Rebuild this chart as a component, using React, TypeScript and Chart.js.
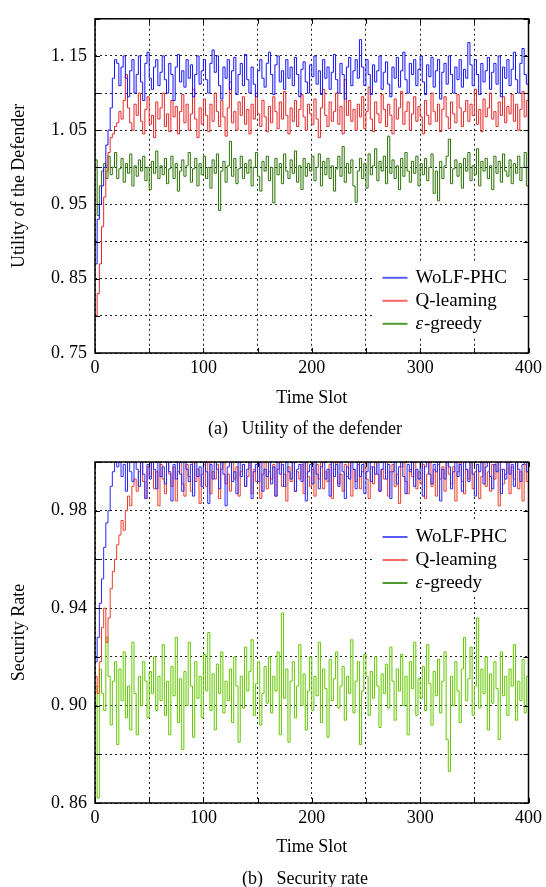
import React, { useEffect, useRef } from "react";
import { Chart, registerables } from "chart.js";

Chart.register(...registerables);

// sampling interval of the stored series (time slots between stored values)
const SLOT_STEP = 2;

const SERIES_NAMES = ["WoLF-PHC", "Q-leaming", "ε-greedy"];
const X_TICK_LABELS = [0, 100, 200, 300, 400];
const UTIL_TICK_LABELS = [0.75, 0.85, 0.95, 1.05, 1.15];
const RATE_TICK_LABELS = [0.86, 0.9, 0.94, 0.98];

// ---------- (a) Utility of the defender ----------
const utilWolf = [
  0.870, 0.930, 0.950, 0.975, 1.000, 1.030, 1.050, 1.080, 1.120, 1.145, 1.140,
  1.110, 1.135, 1.150, 1.120, 1.095, 1.130, 1.145, 1.100, 1.125, 1.150,
  1.115, 1.090, 1.140, 1.155, 1.120, 1.105, 1.135, 1.145, 1.110, 1.128,
  1.150, 1.118, 1.100, 1.140, 1.125, 1.090, 1.135, 1.152, 1.115, 1.130,
  1.108, 1.145, 1.120, 1.138, 1.095, 1.125, 1.150, 1.112, 1.130, 1.145,
  1.118, 1.100, 1.140, 1.158, 1.128, 1.150, 1.110, 1.092, 1.135, 1.120,
  1.145, 1.105, 1.130, 1.148, 1.098, 1.125, 1.140, 1.110, 1.152, 1.118,
  1.100, 1.135, 1.112, 1.095, 1.130, 1.145, 1.120, 1.108, 1.140, 1.155,
  1.125, 1.098, 1.138, 1.150, 1.115, 1.130, 1.105, 1.145, 1.120, 1.135,
  1.110, 1.148, 1.125, 1.095, 1.132, 1.142, 1.115, 1.100, 1.138, 1.122,
  1.150, 1.112, 1.130, 1.098, 1.145, 1.120, 1.135, 1.105, 1.128, 1.152,
  1.118, 1.100, 1.140, 1.125, 1.092, 1.135, 1.148, 1.110, 1.130, 1.145,
  1.120, 1.172, 1.135, 1.110, 1.145, 1.125, 1.098, 1.138, 1.115, 1.130,
  1.150, 1.105, 1.128, 1.142, 1.112, 1.095, 1.135, 1.120, 1.148, 1.108,
  1.130, 1.155, 1.118, 1.100, 1.140, 1.125, 1.145, 1.110, 1.132, 1.150,
  1.115, 1.098, 1.138, 1.122, 1.148, 1.108, 1.130, 1.145, 1.092, 1.128,
  1.140, 1.112, 1.150, 1.125, 1.100, 1.135, 1.118, 1.145, 1.108, 1.132,
  1.120, 1.168, 1.138, 1.110, 1.145, 1.125, 1.098, 1.140, 1.115, 1.130,
  1.148, 1.105, 1.128, 1.140, 1.112, 1.150, 1.095, 1.135, 1.120, 1.145,
  1.110, 1.132, 1.155, 1.118, 1.100, 1.140, 1.160, 1.125, 1.112, 1.100,
];

const utilQ = [
  0.800, 0.830, 0.870, 0.920, 0.960, 0.995, 1.020, 1.040, 1.045, 1.055, 1.060,
  1.075, 1.065, 1.090, 1.125, 1.080, 1.060, 1.050, 1.085, 1.070, 1.100,
  1.062, 1.045, 1.078, 1.095, 1.058, 1.070, 1.040, 1.088, 1.065, 1.080,
  1.100, 1.055, 1.072, 1.048, 1.090, 1.068, 1.082, 1.045, 1.075, 1.098,
  1.060, 1.085, 1.050, 1.072, 1.105, 1.065, 1.040, 1.080, 1.058, 1.092,
  1.070, 1.048, 1.085, 1.062, 1.100, 1.075, 1.055, 1.090, 1.068, 1.042,
  1.080, 1.115, 1.060, 1.075, 1.050, 1.088, 1.070, 1.095, 1.058, 1.078,
  1.045, 1.085, 1.065, 1.100, 1.072, 1.055, 1.090, 1.068, 1.048, 1.082,
  1.060, 1.095, 1.075, 1.052, 1.088, 1.065, 1.102, 1.070, 1.045, 1.080,
  1.062, 1.090, 1.055, 1.078, 1.098, 1.068, 1.050, 1.085, 1.072, 1.058,
  1.092, 1.065, 1.040, 1.080, 1.105, 1.070, 1.055, 1.088, 1.062, 1.075,
  1.100, 1.058, 1.082, 1.045, 1.118, 1.070, 1.090, 1.062, 1.078, 1.050,
  1.085, 1.068, 1.095, 1.052, 1.075, 1.108, 1.065, 1.048, 1.088, 1.072,
  1.060, 1.098, 1.078, 1.055, 1.085, 1.070, 1.045, 1.092, 1.065, 1.080,
  1.102, 1.058, 1.075, 1.088, 1.050, 1.072, 1.095, 1.062, 1.082, 1.068,
  1.045, 1.090, 1.070, 1.058, 1.100, 1.075, 1.062, 1.085, 1.048, 1.078,
  1.095, 1.068, 1.052, 1.088, 1.072, 1.060, 1.098, 1.080, 1.055, 1.075,
  1.090, 1.062, 1.085, 1.070, 1.105, 1.058, 1.078, 1.048, 1.092, 1.068,
  1.080, 1.100, 1.065, 1.075, 1.055, 1.088, 1.070, 1.095, 1.060, 1.082,
  1.072, 1.098, 1.062, 1.085, 1.050, 1.078, 1.102, 1.068, 1.090, 1.075,
];

const utilGreedy = [
  1.010, 0.935, 0.975, 0.995, 1.005, 0.985, 1.015, 0.990, 1.000, 1.020, 0.985,
  0.998, 1.012, 0.980, 1.005, 0.992, 1.018, 0.975, 1.002, 0.988, 1.010,
  0.995, 1.015, 0.982, 1.000, 0.970, 1.008, 0.992, 1.022, 0.985, 1.002,
  0.990, 1.012, 0.978, 0.998, 1.015, 0.985, 1.005, 0.968, 0.995, 1.010,
  0.988, 1.002, 1.020, 0.980, 0.998, 1.012, 0.975, 1.005, 0.990, 1.015,
  0.985, 1.000, 0.972, 1.010, 0.992, 1.018, 0.942, 0.995, 1.008, 0.980,
  1.002, 1.035, 0.988, 1.012, 0.978, 0.998, 1.015, 0.985, 1.005, 0.992,
  1.010, 0.975, 1.000, 1.020, 0.988, 0.968, 1.008, 0.995, 1.015, 0.982,
  1.000, 0.952, 1.012, 0.990, 1.005, 0.978, 1.018, 0.995, 0.985, 1.010,
  0.992, 1.022, 0.980, 1.002, 0.970, 1.012, 0.988, 1.005, 0.995, 1.015,
  0.982, 1.000, 1.018, 0.975, 1.008, 0.990, 1.012, 0.985, 1.002, 0.968,
  0.998, 1.015, 0.988, 1.028, 0.980, 1.005, 0.992, 1.010, 0.975, 0.953,
  0.995, 1.012, 0.985, 1.005, 0.972, 1.018, 0.990, 1.002, 1.025, 0.982,
  1.008, 0.995, 1.015, 0.978, 1.042, 0.992, 1.010, 0.985, 1.002, 0.970,
  1.012, 0.988, 1.020, 0.995, 0.980, 1.008, 0.992, 1.015, 0.975, 1.005,
  0.990, 1.012, 0.982, 1.000, 1.018, 0.965, 0.995, 0.955, 1.008, 0.985,
  1.002, 1.015, 1.038, 0.978, 0.998, 1.010, 0.988, 1.005, 0.972, 1.012,
  0.995, 1.020, 0.982, 1.002, 0.990, 1.025, 0.975, 1.008, 0.995, 1.012,
  0.985, 1.002, 0.970, 1.015, 0.992, 1.008, 0.980, 1.018, 0.995, 0.988,
  1.010, 0.978, 1.005, 0.992, 1.015, 0.982, 1.000, 1.020, 0.975, 1.030,
];

// ---------- (b) Security rate ----------
const rateWolf = [
  0.918, 0.928, 0.942, 0.952, 0.965, 0.975, 0.980, 0.990, 0.996, 1.000, 0.998,
  1.000, 0.994, 0.999, 0.988, 1.000, 0.996, 0.992, 1.000, 0.997, 0.990,
  1.000, 0.995, 0.985, 0.999, 0.993, 1.000, 0.997, 0.989, 1.000, 0.994,
  0.998, 0.991, 1.000, 0.996, 0.984, 0.999, 0.993, 1.000, 0.995, 0.988,
  1.000, 0.997, 0.992, 0.999, 0.986, 1.000, 0.994, 0.998, 0.990, 1.000,
  0.996, 0.983, 0.999, 0.993, 1.000, 0.997, 0.989, 1.000, 0.995, 0.982,
  0.998, 1.000, 0.992, 0.996, 0.987, 1.000, 0.994, 0.999, 0.990, 0.997,
  1.000, 0.985, 0.996, 0.999, 0.992, 1.000, 0.988, 0.997, 0.994, 1.000,
  0.991, 0.998, 0.986, 1.000, 0.995, 0.999, 0.990, 1.000, 0.996, 0.993,
  1.000, 0.988, 0.997, 0.999, 0.992, 1.000, 0.984, 0.996, 0.999, 0.991,
  1.000, 0.995, 0.989, 0.998, 1.000, 0.993, 0.997, 0.986, 1.000, 0.994,
  0.999, 0.990, 1.000, 0.996, 0.985, 0.998, 0.993, 1.000, 0.997, 0.989,
  1.000, 0.994, 0.999, 0.987, 0.996, 1.000, 0.992, 0.998, 0.995, 1.000,
  0.988, 0.997, 1.000, 0.993, 0.999, 0.985, 0.996, 1.000, 0.991, 0.998,
  1.000, 0.994, 0.987, 0.999, 0.996, 1.000, 0.990, 0.997, 0.993, 1.000,
  0.986, 0.998, 1.000, 0.995, 0.991, 0.999, 0.996, 1.000, 0.984, 0.997,
  0.993, 1.000, 0.998, 0.989, 0.996, 1.000, 0.994, 0.999, 0.988, 1.000,
  0.997, 0.992, 1.000, 0.995, 0.986, 0.999, 0.996, 1.000, 0.991, 0.998,
  1.000, 0.994, 0.989, 0.999, 0.996, 1.000, 0.987, 0.997, 0.993, 1.000,
  0.995, 0.999, 0.990, 1.000, 0.997, 0.992, 0.999, 1.000, 0.996, 0.998,
];

const rateQ = [
  0.912, 0.905, 0.918, 0.932, 0.940, 0.926, 0.936, 0.948, 0.955, 0.960, 0.966,
  0.970, 0.976, 0.972, 0.980, 0.986, 0.982, 0.990, 0.993, 0.988, 0.996,
  1.000, 0.992, 0.985, 0.998, 0.994, 1.000, 0.989, 0.996, 0.982, 0.999,
  0.993, 0.987, 1.000, 0.995, 0.990, 0.998, 0.984, 0.996, 1.000, 0.991,
  0.986, 0.999, 0.994, 0.988, 1.000, 0.992, 0.997, 0.983, 0.995, 0.999,
  0.990, 1.000, 0.987, 0.996, 0.993, 0.999, 0.985, 0.997, 1.000, 0.991,
  0.995, 0.988, 1.000, 0.993, 0.998, 0.986, 0.996, 0.999, 0.990, 0.994,
  1.000, 0.987, 0.997, 0.992, 0.999, 0.985, 0.995, 1.000, 0.989, 0.996,
  0.993, 0.999, 0.986, 0.997, 1.000, 0.990, 0.995, 0.984, 0.998, 0.992,
  1.000, 0.988, 0.996, 0.993, 0.999, 0.987, 1.000, 0.994, 0.990, 0.997,
  0.986, 0.999, 0.993, 1.000, 0.989, 0.996, 0.992, 0.999, 0.985, 0.997,
  1.000, 0.991, 0.995, 0.988, 0.999, 0.994, 1.000, 0.986, 0.997, 0.992,
  0.999, 0.989, 0.996, 1.000, 0.993, 0.985, 0.998, 0.991, 1.000, 0.995,
  0.988, 0.997, 0.993, 1.000, 0.986, 0.996, 0.999, 0.990, 0.995, 0.983,
  0.998, 1.000, 0.992, 0.987, 0.997, 0.994, 1.000, 0.989, 0.996, 0.991,
  0.999, 0.985, 0.995, 1.000, 0.990, 0.997, 0.986, 0.999, 0.993, 0.998,
  0.988, 1.000, 0.995, 0.991, 0.998, 0.984, 0.996, 1.000, 0.992, 0.987,
  0.997, 0.993, 1.000, 0.989, 0.996, 0.999, 0.985, 0.994, 1.000, 0.990,
  0.996, 0.988, 0.999, 0.993, 1.000, 0.982, 0.997, 0.991, 0.995, 1.000,
  0.987, 0.998, 0.993, 1.000, 0.989, 0.996, 0.984, 0.999, 0.992, 0.997,
];

const rateGreedy = [
  0.908, 0.862, 0.915, 0.905, 0.898, 0.928, 0.912, 0.892, 0.910, 0.918, 0.884,
  0.915, 0.902, 0.922, 0.895, 0.908, 0.890, 0.926, 0.905, 0.888, 0.912,
  0.900, 0.918, 0.910, 0.895, 0.914, 0.905, 0.920, 0.898, 0.912, 0.902,
  0.925, 0.896, 0.910, 0.888, 0.916, 0.904, 0.928, 0.893, 0.911, 0.882,
  0.914, 0.900, 0.926, 0.908, 0.887, 0.918, 0.903, 0.912, 0.895, 0.921,
  0.906, 0.930, 0.898, 0.913, 0.890, 0.917, 0.905, 0.922, 0.897, 0.910,
  0.902, 0.915, 0.893, 0.920, 0.908, 0.885, 0.912, 0.899, 0.924, 0.906,
  0.914, 0.927, 0.896, 0.909, 0.918, 0.892, 0.905, 0.916, 0.901, 0.920,
  0.897, 0.912, 0.906, 0.922, 0.888, 0.938, 0.903, 0.915, 0.885, 0.910,
  0.918, 0.895, 0.908, 0.925, 0.900, 0.913, 0.890, 0.906, 0.920, 0.898,
  0.912, 0.904, 0.926, 0.893, 0.915, 0.907, 0.887, 0.919, 0.902, 0.911,
  0.922, 0.899, 0.908, 0.916, 0.894, 0.912, 0.905, 0.927, 0.897, 0.910,
  0.918, 0.884, 0.906, 0.921, 0.912, 0.896, 0.914, 0.903, 0.920, 0.908,
  0.891, 0.913, 0.905, 0.917, 0.899, 0.924, 0.910, 0.894, 0.915, 0.906,
  0.921, 0.900, 0.912, 0.888, 0.918, 0.907, 0.926, 0.896, 0.911, 0.903,
  0.916, 0.898, 0.925, 0.909, 0.892, 0.914, 0.904, 0.919, 0.897, 0.910,
  0.922, 0.886, 0.873, 0.912, 0.900, 0.918, 0.906, 0.893, 0.915, 0.928,
  0.902, 0.911, 0.924, 0.896, 0.908, 0.936, 0.899, 0.915, 0.905, 0.920,
  0.890, 0.913, 0.901, 0.918, 0.907, 0.886, 0.922, 0.904, 0.912, 0.896,
  0.915, 0.908, 0.925, 0.894, 0.910, 0.902, 0.919, 0.897, 0.912, 0.906,
];

const SERIF = "'Liberation Serif', 'Times New Roman', serif";

const toPoints = (vals: number[]) => vals.map((y, i) => ({ x: i * SLOT_STEP, y }));
const fmtTick = (v: number) => v.toFixed(2).replace(".", ". ");
const near = (list: number[], v: number) => list.some((t) => Math.abs(t - v) < 1e-6);

// white box behind the legend, drawn before the datasets so the grid is hidden there
const legendBoxPlugin = {
  id: "legendBox",
  beforeDatasetsDraw(chart: any, _args: any, opts: any) {
    const { ctx, chartArea: a } = chart;
    const rowTop = a.top + opts.legendTop;
    ctx.save();
    ctx.fillStyle = "#fff";
    ctx.fillRect(a.right - 154, rowTop - 17, 154, 2 * 23 + 31);
    ctx.restore();
  },
};

const framePlugin = {
  id: "frameLegend",
  afterDatasetsDraw(chart: any, _args: any, opts: any) {
    const { ctx, chartArea: a, scales } = chart;
    ctx.save();
    // inward tick marks
    ctx.strokeStyle = "#000";
    ctx.lineWidth = 1;
    ctx.setLineDash([]);
    ctx.beginPath();
    scales.y.ticks.forEach((t: any) => {
      const py = Math.round(scales.y.getPixelForValue(t.value)) + 0.5;
      ctx.moveTo(a.left, py);
      ctx.lineTo(a.left + 5, py);
      ctx.moveTo(a.right, py);
      ctx.lineTo(a.right - 5, py);
    });
    scales.x.ticks.forEach((t: any) => {
      const px = Math.round(scales.x.getPixelForValue(t.value)) + 0.5;
      ctx.moveTo(px, a.bottom);
      ctx.lineTo(px, a.bottom - 5);
      ctx.moveTo(px, a.top);
      ctx.lineTo(px, a.top + 5);
    });
    ctx.stroke();
    // frame
    ctx.lineWidth = 1.5;
    ctx.strokeRect(a.left, a.top, a.right - a.left, a.bottom - a.top);

    // legend
    const rowTop = a.top + opts.legendTop;
    const gap = 23;
    chart.data.datasets.forEach((ds: any, i: number) => {
      const y = rowTop + i * gap;
      ctx.strokeStyle = ds.legendColor || ds.borderColor;
      ctx.lineWidth = 2;
      ctx.beginPath();
      ctx.moveTo(a.right - 146, y);
      ctx.lineTo(a.right - 121, y);
      ctx.stroke();
      ctx.fillStyle = "#000";
      ctx.textBaseline = "middle";
      ctx.textAlign = "left";
      let x = a.right - 113;
      const label: string = ds.label;
      if (label.startsWith("ε")) {
        ctx.font = `italic 19px ${SERIF}`;
        ctx.fillText("ε", x, y);
        x += ctx.measureText("ε").width + 1;
        ctx.font = `19px ${SERIF}`;
        ctx.fillText(label.slice(1), x, y);
      } else {
        ctx.font = `19px ${SERIF}`;
        ctx.fillText(label, x, y);
      }
    });
    ctx.restore();
  },
};

type PanelProps = {
  height: number;
  series: number[][];
  colors: string[];
  legendColors: string[];
  yMin: number;
  yMax: number;
  yStep: number;
  yLabels: number[];
  yTitle: string;
  plotTop: number;
  plotBottom: number;
  xTitlePad: number;
  legendTop: number;
};

function Panel(p: PanelProps) {
  const ref = useRef<HTMLCanvasElement | null>(null);
  useEffect(() => {
    if (!ref.current) return;
    const xAxisHeight = p.height - p.plotBottom;
    const chart = new Chart(ref.current, {
      type: "line",
      data: {
        datasets: p.series.map((vals, i) => ({
          label: SERIES_NAMES[i],
          data: toPoints(vals),
          borderColor: p.colors[i],
          legendColor: p.legendColors[i],
          borderWidth: 1,
          pointRadius: 0,
          stepped: true,
          fill: false,
        })) as any,
      },
      options: {
        animation: false,
        responsive: false,
        maintainAspectRatio: false,
        layout: { padding: { left: 0, right: 15, top: p.plotTop, bottom: 0 } },
        plugins: {
          legend: { display: false },
          tooltip: { enabled: false },
          frameLegend: { legendTop: p.legendTop },
          legendBox: { legendTop: p.legendTop },
        } as any,
        scales: {
          x: {
            type: "linear",
            min: 0,
            max: 400,
            afterFit: (s: any) => {
              s.height = xAxisHeight;
            },
            ticks: {
              stepSize: 50,
              autoSkip: false,
              maxRotation: 0,
              padding: 4,
              color: "#000",
              font: { family: SERIF, size: 18 },
              callback: (v: any) => (near(X_TICK_LABELS, Number(v)) ? String(v) : ""),
            },
            grid: { color: "#222", lineWidth: 1, drawTicks: false },
            border: { display: false, dash: [2, 3] },
            title: {
              display: true,
              text: "Time Slot",
              color: "#000",
              font: { family: SERIF, size: 18 },
              padding: { top: 0, bottom: p.xTitlePad },
            },
          },
          y: {
            type: "linear",
            min: p.yMin,
            max: p.yMax,
            afterFit: (s: any) => {
              s.width = 95;
            },
            ticks: {
              stepSize: p.yStep,
              autoSkip: false,
              padding: 8,
              color: "#000",
              font: { family: SERIF, size: 18 },
              callback: (v: any) => (near(p.yLabels, Number(v)) ? fmtTick(Number(v)) : ""),
            },
            grid: { color: "#222", lineWidth: 1, drawTicks: false },
            border: { display: false, dash: [2, 3] },
            title: {
              display: true,
              text: p.yTitle,
              color: "#000",
              font: { family: SERIF, size: 18 },
              padding: { top: 8, bottom: 0 },
            },
          },
        },
      },
      plugins: [legendBoxPlugin as any, framePlugin as any],
    });
    return () => chart.destroy();
  }, []);
  return <canvas ref={ref} width={546} height={p.height} style={{ display: "block" }} />;
}

const captionStyle: React.CSSProperties = {
  position: "absolute",
  left: 100,
  width: 410,
  textAlign: "center",
  fontFamily: SERIF,
  fontSize: 18,
  lineHeight: "20px",
  whiteSpace: "pre",
  color: "#000",
};

export default function App() {
  return (
    <div style={{ position: "absolute", left: 0, top: 0, width: 546, height: 887, background: "#fff" }}>
      <div style={{ position: "absolute", left: 0, top: 0 }}>
        <Panel
          height={440}
          series={[utilWolf, utilQ, utilGreedy]}
          colors={["rgb(20,20,255)", "rgb(232,40,40)", "rgb(45,115,5)"]}
          legendColors={["#5a5aff", "#ff6464", "#4f9a32"]}
          yMin={0.75}
          yMax={1.2}
          yStep={0.05}
          yLabels={UTIL_TICK_LABELS}
          yTitle="Utility of the Defender"
          plotTop={12}
          plotBottom={353}
          xTitlePad={31}
          legendTop={259}
        />
      </div>
      <div style={{ ...captionStyle, top: 418 }}>{"(a)   Utility of the defender"}</div>
      <div style={{ position: "absolute", left: 0, top: 440 }}>
        <Panel
          height={447}
          series={[rateWolf, rateQ, rateGreedy]}
          colors={["rgb(40,40,255)", "rgb(236,62,40)", "rgb(100,200,0)"]}
          legendColors={["#5a5aff", "#ff6464", "#4f9a32"]}
          yMin={0.86}
          yMax={1.0}
          yStep={0.02}
          yLabels={RATE_TICK_LABELS}
          yTitle="Security Rate"
          plotTop={22}
          plotBottom={363}
          xTitlePad={29}
          legendTop={75}
        />
      </div>
      <div style={{ ...captionStyle, top: 868 }}>{"(b)   Security rate"}</div>
    </div>
  );
}
